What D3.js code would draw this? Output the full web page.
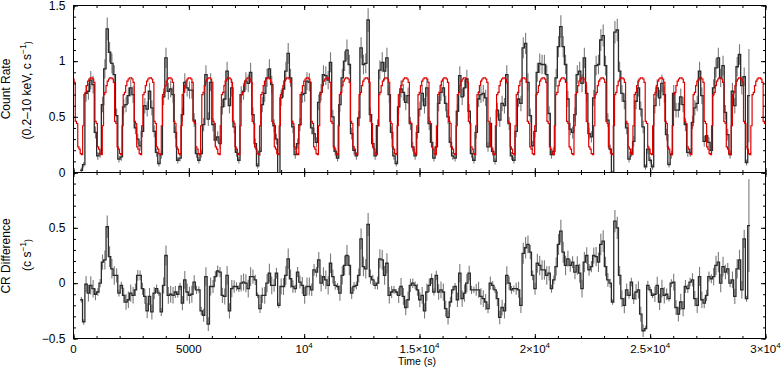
<!DOCTYPE html>
<html>
<head>
<meta charset="utf-8">
<script src="https://cdn.jsdelivr.net/npm/d3@7"></script>
<style>
body { margin: 0; background: #fff; }
svg { font-family: "Liberation Sans", Arial, sans-serif; }
</style>
</head>
<body>
<svg id="chart" width="781" height="369"></svg>
<script>
// light curve bins (s)
var tStart = 290, binWidth = 101.9;

// excess over the model, one value per bin (c/s)
var diffValues = [
  -0.15, -0.35, -0.01, -0.09, -0.02, -0.05, -0.10, -0.08, 0.00, 0.19, 0.21, 0.51, 0.24, 0.13, 0.07, 0.07,
  -0.09, -0.02, -0.11, -0.17, -0.15, -0.09, -0.11, -0.06, 0.07, 0.07, -0.05, -0.12, -0.25, -0.12, -0.26, -0.09,
  -0.05, -0.09, -0.26, -0.02, 0.25, -0.11, -0.10, -0.11, -0.08, -0.10, -0.03, -0.18, 0.03, -0.08, -0.11, -0.10,
  0.01, -0.06, -0.06, -0.25, -0.29, 0.06, -0.37, -0.03, -0.03, 0.06, 0.11, 0.10, -0.11, -0.12, 0.07, -0.25,
  -0.05, -0.03, -0.03, -0.05, 0.00, 0.01, 0.00, -0.05, 0.06, 0.06, 0.03, -0.11, -0.23, -0.11, -0.11, 0.00,
  0.09, -0.02, -0.02, 0.09, -0.20, -0.03, -0.03, 0.07, 0.22, 0.04, -0.03, -0.05, 0.10, 0.01, -0.02, -0.11,
  -0.03, -0.03,
  -0.06, 0.12, 0.10, 0.21, 0.00, 0.06, 0.03, -0.02, 0.18, 0.06, -0.02, -0.03, -0.09, 0.07, 0.16, 0.25,
  0.16, -0.09, -0.03, -0.02, 0.07, 0.40, 0.15, 0.13, 0.53, 0.06, 0.03, -0.02, 0.00, 0.22, 0.21, 0.07,
  0.18, -0.11, -0.08, -0.06, -0.08, -0.11, -0.03, -0.12, -0.22, -0.15, -0.02, 0.00, -0.02, -0.06, -0.15, -0.11,
  -0.25, -0.08,
  -0.02, 0.04, -0.08, 0.07, -0.08, -0.06, -0.08, -0.23, -0.31, -0.17, -0.06, -0.03, -0.15, 0.09, -0.14, -0.09,
  0.00, 0.09, -0.06, -0.06, -0.06, -0.06, -0.12, -0.14, -0.17, -0.23, 0.00, -0.02, -0.06, -0.14, -0.31, -0.22,
  -0.25, 0.07, 0.00, -0.06, -0.05, -0.05, -0.06, -0.20, 0.27, 0.32, 0.35, 0.28, 0.07, -0.05, 0.18, 0.16,
  0.12, 0.12, 0.07,
  0.09, -0.05, 0.03, 0.15, 0.35, 0.47, 0.28, 0.16, 0.22, 0.16, 0.19, 0.10, 0.16, 0.09, -0.05, 0.19,
  0.25, 0.12, 0.15, 0.25, 0.24, 0.19, 0.35, 0.38, 0.15, 0.03, 0.00, -0.17, 0.56, 0.50, 0.07, -0.14,
  -0.20, -0.06, -0.11, 0.01, -0.14, -0.08, -0.06, -0.28, -0.43, -0.41, -0.02, -0.06, -0.11, -0.10, -0.02, -0.17,
  -0.05, -0.11, -0.10,
  -0.14, 0.00, 0.01, -0.22, -0.28, -0.17, -0.23, -0.03, -0.05, 0.01, 0.03, -0.14, -0.20, 0.06, -0.15, -0.18,
  -0.11, 0.06, 0.04, 0.06, 0.16, 0.19, 0.00, 0.15, 0.10, 0.13, 0.00, 0.03, -0.12, 0.13, 0.21, -0.06,
  0.40, -0.14, 0.52
];

// folded model profile (red), 16 phase bins
var period = 852, phaseRef = 610;
var profile = [0.82, 0.84, 0.85, 0.85, 0.84, 0.81, 0.46, 0.44, 0.23, 0.21, 0.17, 0.16, 0.42, 0.70, 0.72, 0.78];

var errK = 0.008;            // poisson-like error scale
var errOverride = [[284, 0.42]];

var xTickValues = [0, 5000, 10000, 15000, 20000, 25000, 30000];
var xTickLabels = [["0"], ["5000"], ["10", "4"], ["1.5×10", "4"], ["2×10", "4"], ["2.5×10", "4"], ["3×10", "4"]];
var topTickValues = [0, 0.5, 1, 1.5];
var topTickLabels = ["0", "0.5", "1", "1.5"];
var botTickValues = [-0.5, 0, 0.5];
var botTickLabels = ["−0.5", "0", "0.5"];

var svg = d3.select("#chart");

var x = d3.scaleLinear().domain([0, 30000]).range([73.5, 765.5]);
var yTop = d3.scaleLinear().domain([0, 1.5]).range([172.5, 5.5]);
var yBot = d3.scaleLinear().domain([-0.5, 1]).range([338.5, 172.5]);

var nProf = profile.length, step = period / nProf;
function profIndex(j) { return ((j % nProf) + nProf) % nProf; }
function model(t) {
    return profile[profIndex(Math.floor((t - phaseRef) / step))];
}

var bins = diffValues.map(function(d, i) {
    var t0 = tStart + i * binWidth;
    var m = model(t0 + binWidth / 2);
    var rate = m + d;
    return { t0: t0, t1: t0 + binWidth, rate: rate, diff: d,
             err: Math.max(0.025, Math.sqrt(Math.max(rate, 0.05) * errK)) };
});
errOverride.forEach(function(o) { bins[o[0]].err = o[1]; });

var redPts = [{ t: 0, v: model(0) }];
for (var j = Math.ceil(-phaseRef / step); phaseRef + j * step < 30000; j++) {
    var tb = phaseRef + j * step;
    if (tb <= 0) continue;
    redPts.push({ t: tb, v: profile[profIndex(j)] });
}
redPts.push({ t: 30000, v: redPts[redPts.length - 1].v });

var defs = svg.append("defs");
defs.append("clipPath").attr("id", "clipTop").append("rect")
    .attr("x", 73.5).attr("y", 5.5).attr("width", 692).attr("height", 167);
defs.append("clipPath").attr("id", "clipBot").append("rect")
    .attr("x", 73.5).attr("y", 172.5).attr("width", 692).attr("height", 166);

function drawSeries(g, y, key) {
    g.selectAll("line.err")
        .data(bins)
        .enter().append("line")
        .attr("class", "err")
        .attr("x1", function(d) { return x(d.t0 + binWidth / 2); })
        .attr("x2", function(d) { return x(d.t0 + binWidth / 2); })
        .attr("y1", function(d) { return y(d[key] - d.err); })
        .attr("y2", function(d) { return y(d[key] + d.err); })
        .attr("stroke", "#7a7a7a")
        .attr("stroke-width", 1.1);
    var pts = bins.map(function(d) { return { t: d.t0, v: d[key] }; });
    var last = bins[bins.length - 1];
    pts.push({ t: last.t1, v: last[key] });
    g.append("path")
        .datum(pts)
        .attr("fill", "none")
        .attr("stroke", "#2b2b2b")
        .attr("stroke-width", 1.3)
        .attr("d", d3.line()
            .x(function(d) { return x(d.t); })
            .y(function(d) { return y(d.v); })
            .curve(d3.curveStepAfter));
}

var gTop = svg.append("g").attr("clip-path", "url(#clipTop)");
drawSeries(gTop, yTop, "rate");
gTop.append("path")
    .datum(redPts)
    .attr("fill", "none")
    .attr("stroke", "#e00000")
    .attr("stroke-width", 1.2)
    .attr("d", d3.line()
        .x(function(d) { return x(d.t); })
        .y(function(d) { return yTop(d.v); })
        .curve(d3.curveStepAfter));

var gBot = svg.append("g").attr("clip-path", "url(#clipBot)");
drawSeries(gBot, yBot, "diff");

// ticks, all pointing inward
function ticks(axis, values, size, transform) {
    svg.append("g")
        .attr("transform", transform)
        .call(axis.tickValues(values).tickSize(-size).tickSizeOuter(0).tickFormat(""))
        .call(function(g) { g.select(".domain").remove(); })
        .selectAll("line").attr("stroke", "#000");
}
var minorX = d3.range(0, 30001, 1000);
[[5.5, d3.axisTop], [172.5, d3.axisBottom], [172.5, d3.axisTop], [338.5, d3.axisBottom]].forEach(function(p) {
    ticks(p[1](x), minorX, 2.5, "translate(0," + p[0] + ")");
    ticks(p[1](x), xTickValues, 4.5, "translate(0," + p[0] + ")");
});
[[73.5, d3.axisLeft], [765.5, d3.axisRight]].forEach(function(p) {
    ticks(p[1](yTop), d3.range(0, 1.501, 0.1), 2.5, "translate(" + p[0] + ",0)");
    ticks(p[1](yTop), topTickValues, 4.5, "translate(" + p[0] + ",0)");
    ticks(p[1](yBot), d3.range(-0.5, 1.001, 0.1), 2.5, "translate(" + p[0] + ",0)");
    ticks(p[1](yBot), [-0.5, 0, 0.5, 1], 4.5, "translate(" + p[0] + ",0)");
});

// frames
svg.append("rect").attr("x", 73.5).attr("y", 5.5).attr("width", 692).attr("height", 167)
    .attr("fill", "none").attr("stroke", "#000");
svg.append("rect").attr("x", 73.5).attr("y", 172.5).attr("width", 692).attr("height", 166)
    .attr("fill", "none").attr("stroke", "#000");

// tick labels
svg.selectAll("text.ytop")
    .data(topTickValues)
    .enter().append("text")
    .attr("x", 65.5).attr("y", function(d) { return yTop(d); })
    .attr("dy", "0.35em").attr("text-anchor", "end").attr("font-size", 12)
    .text(function(d, i) { return topTickLabels[i]; });
svg.selectAll("text.ybot")
    .data(botTickValues)
    .enter().append("text")
    .attr("x", 65.5).attr("y", function(d) { return yBot(d); })
    .attr("dy", "0.35em").attr("text-anchor", "end").attr("font-size", 12)
    .text(function(d, i) { return botTickLabels[i]; });
xTickValues.forEach(function(v, i) {
    var t = svg.append("text")
        .attr("x", x(v)).attr("y", 352.5)
        .attr("text-anchor", "middle").attr("font-size", 11.5);
    t.append("tspan").text(xTickLabels[i][0]);
    if (xTickLabels[i][1]) {
        t.append("tspan").attr("dy", -4.5).attr("font-size", 8).text(xTickLabels[i][1]);
    }
});

// axis titles
svg.append("text").attr("x", 417).attr("y", 364.5)
    .attr("text-anchor", "middle").attr("font-size", 10.5).text("Time (s)");

function yTitle(tx, ty, parts) {
    var t = svg.append("text")
        .attr("transform", "translate(" + tx + "," + ty + ") rotate(-90)")
        .attr("text-anchor", "middle").attr("font-size", 12);
    parts.forEach(function(p) {
        var s = t.append("tspan").text(p[0]);
        if (p[1]) s.attr("font-size", 8.5).attr("dy", p[1]);
    });
}
yTitle(10, 89, [["Count Rate"]]);
yTitle(31, 90.5, [["(0.2–10 keV, c s"], ["−1", -5], [")", 5]]);
yTitle(10, 256, [["CR Difference"]]);
yTitle(31, 255, [["(c s"], ["−1", -5], [")", 5]]);
</script>
</body>
</html>
